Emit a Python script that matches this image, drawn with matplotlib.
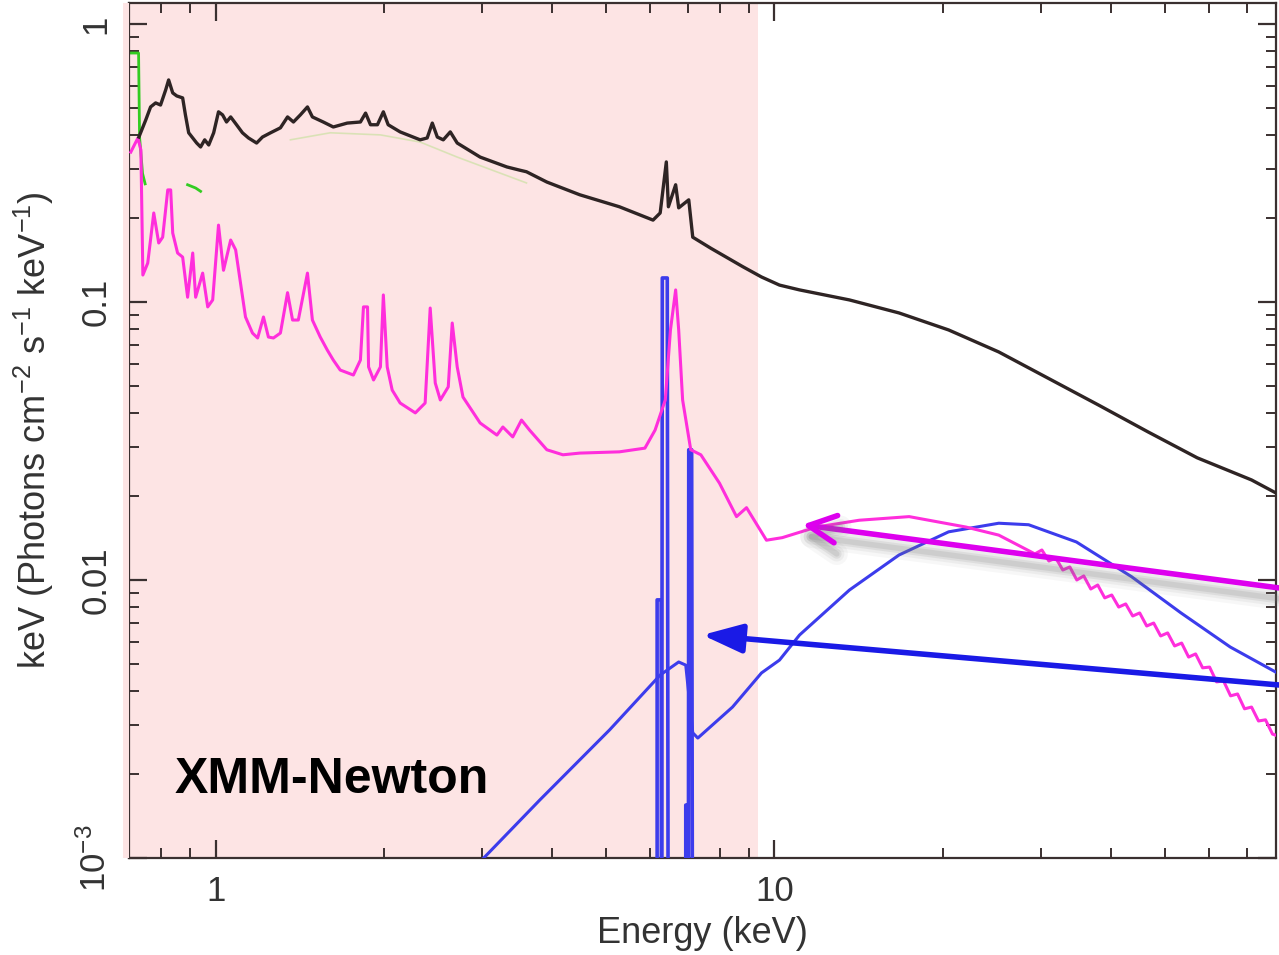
import numpy as np
import matplotlib.pyplot as plt
from matplotlib import patheffects as pe
from matplotlib.patches import Rectangle
from matplotlib.ticker import FixedLocator, FixedFormatter, LogLocator, NullFormatter

plt.rcParams['font.family'] = ['Liberation Sans', 'DejaVu Sans']
plt.rcParams['mathtext.fontset'] = 'custom'
plt.rcParams['mathtext.rm'] = 'Liberation Sans'
plt.rcParams['mathtext.it'] = 'Liberation Sans:italic'

# total model (black)
total_E = [0.729, 0.750, 0.765, 0.781, 0.797, 0.814, 0.824, 0.838, 0.852, 0.873, 0.883, 0.895,
           0.910, 0.925, 0.940, 0.956, 0.972, 0.992, 1.012, 1.029, 1.046, 1.064, 1.090, 1.117,
           1.145, 1.184, 1.213, 1.254, 1.306, 1.345, 1.378, 1.418, 1.460, 1.490, 1.558, 1.624,
           1.720, 1.816, 1.855, 1.893, 1.948, 1.996, 2.036, 2.139, 2.323, 2.391, 2.442, 2.493,
           2.555, 2.630, 2.706, 2.974, 3.320, 3.499, 3.600, 3.915, 4.483, 5.279, 6.064, 6.245,
           6.405, 6.460, 6.656, 6.740, 7.025, 7.142, 7.696, 8.774, 9.48, 10.21, 11.09, 13.62,
           16.71, 20.50, 25.2, 38.0, 46.6, 57.1, 71.4, 78.8]
total_F = [0.392, 0.452, 0.503, 0.520, 0.511, 0.579, 0.629, 0.565, 0.551, 0.542, 0.471, 0.406,
           0.389, 0.373, 0.361, 0.383, 0.367, 0.406, 0.483, 0.471, 0.444, 0.463, 0.434, 0.406,
           0.389, 0.373, 0.392, 0.406, 0.423, 0.463, 0.444, 0.471, 0.503, 0.463, 0.444, 0.426,
           0.440, 0.444, 0.478, 0.434, 0.434, 0.483, 0.434, 0.409, 0.383, 0.389, 0.440, 0.392,
           0.383, 0.409, 0.373, 0.332, 0.306, 0.298, 0.294, 0.270, 0.243, 0.220, 0.197, 0.209,
           0.319, 0.220, 0.264, 0.218, 0.233, 0.171, 0.156, 0.134, 0.123, 0.115, 0.1105, 0.1017,
           0.0913, 0.0793, 0.0661, 0.0426, 0.0341, 0.0275, 0.0229, 0.0206]

# thermal plasma (magenta)
apec_E = [0.705, 0.726, 0.735, 0.741, 0.756, 0.775, 0.791, 0.804, 0.821, 0.831, 0.838, 0.855,
          0.873, 0.891, 0.910, 0.921, 0.948, 0.968, 0.988, 1.012, 1.033, 1.064, 1.086, 1.108,
          1.131, 1.164, 1.189, 1.218, 1.243, 1.269, 1.306, 1.345, 1.373, 1.406, 1.460, 1.490,
          1.539, 1.584, 1.624, 1.671, 1.764, 1.816, 1.839, 1.870, 1.878, 1.917, 1.972, 1.996,
          2.028, 2.070, 2.139, 2.277, 2.371, 2.421, 2.472, 2.524, 2.608, 2.651, 2.706, 2.771,
          2.974, 3.187, 3.266, 3.402, 3.527, 3.646, 3.915, 4.183, 4.483, 5.279, 5.864, 6.115,
          6.378, 6.515, 6.656, 6.740, 6.85, 7.083, 7.384, 7.973, 8.553, 8.913, 9.676, 10.33,
          11.89, 14.18, 17.42, 22.02, 25.2,
          29.25, 30.10, 30.98, 31.88, 32.81, 33.77, 34.76, 35.77, 36.82, 37.89, 39.00, 40.14,
          41.31, 42.52, 43.76, 45.04, 46.36, 47.71, 49.10, 50.54, 52.01, 53.54, 55.10, 56.71,
          58.37, 60.07, 61.83, 63.64, 65.50, 67.41, 69.38, 71.41, 73.49, 75.64, 77.85, 79.1]
apec_F = [0.346, 0.389, 0.352, 0.125, 0.138, 0.209, 0.163, 0.171, 0.253, 0.253, 0.177, 0.150,
          0.145, 0.104, 0.150, 0.104, 0.127, 0.096, 0.1017, 0.189, 0.130, 0.167, 0.154, 0.117,
          0.0883, 0.0773, 0.0742, 0.0883, 0.0748, 0.0742, 0.0773, 0.108, 0.0861, 0.0861, 0.127, 0.0861,
          0.0748, 0.0672, 0.0618, 0.0569, 0.0546, 0.0618, 0.0960, 0.0960, 0.0584, 0.0524, 0.0584, 0.106,
          0.0584, 0.0482, 0.0433, 0.0399, 0.0433, 0.0951, 0.0511, 0.0444, 0.0495, 0.0840, 0.0584, 0.0455,
          0.0367, 0.0332, 0.0355, 0.0327, 0.0376, 0.0346, 0.0294, 0.0282, 0.0286, 0.0289, 0.0298, 0.0346,
          0.0444, 0.0793, 0.1105, 0.0793, 0.0444, 0.0294, 0.0282, 0.0223, 0.0169, 0.0182, 0.0139, 0.0142,
          0.0155, 0.0164, 0.0169, 0.0155, 0.0145,
          0.01241, 0.01282, 0.01170, 0.01200, 0.01086, 0.01114, 0.01000, 0.01034, 0.00928, 0.00959,
          0.00862, 0.00883, 0.00799, 0.00820, 0.00742, 0.00761, 0.00683, 0.00700, 0.00629, 0.00645,
          0.00579, 0.00593, 0.00528, 0.00542, 0.00483, 0.00486, 0.00430, 0.00433, 0.00383, 0.00389,
          0.00344, 0.00349, 0.00311, 0.00314, 0.00279, 0.00276]

# reflection hump (blue)
refl_E = [2.854, 3.807, 5.071, 6.245, 6.740, 6.939, 7.142, 7.292, 8.413, 9.48, 10.21, 11.09,
          13.62, 16.71, 20.50, 25.2, 28.5, 34.7, 43.6, 53.4, 65.4, 78.8]
refl_F = [0.00089, 0.00162, 0.00289, 0.00455, 0.00507, 0.00494, 0.00282, 0.00270, 0.00349,
          0.00463, 0.00515, 0.00634, 0.0092, 0.0123, 0.0149, 0.0160, 0.0158, 0.0137, 0.01026,
          0.00761, 0.00574, 0.00467]

# Fe K alpha / K beta lines (blue)
line_E = [6.167, 6.167, 6.27, 6.28, 6.30, 6.43, 6.46, 6.939, 6.939, 7.00, 7.01, 7.025, 7.11, 7.142]
line_F = [1e-4, 0.00848, 0.00848, 1e-4, 0.122, 0.122, 1e-4, 1e-4, 0.00155, 0.00155, 1e-4,
          0.0294, 0.0294, 1e-4]

# soft component pieces (green)
soft_E = [0.700, 0.728, 0.731, 0.740, 0.748, np.nan, 0.891, 0.921, 0.940]
soft_F = [0.786, 0.786, 0.392, 0.290, 0.266, np.nan, 0.264, 0.257, 0.250]
soft2_E = [1.361, 1.604, 1.972, 2.323, 2.706, 3.600]
soft2_F = [0.383, 0.406, 0.399, 0.376, 0.332, 0.268]

fig = plt.figure(figsize=(12.79, 9.55), dpi=100)
ax = fig.add_axes([0.1009, 0.1016, 0.8968, 0.8953])
ax.set_xscale('log')
ax.set_yscale('log')
ax.set_xlim(0.7, 79)
ax.set_ylim(1e-3, 1.19)

ax.axvspan(0.7, 9.35, color='#fde4e4', lw=0, zorder=0)
# the shaded band spills a few pixels left of the frame in the original
fig.patches.append(Rectangle((0.0962, 0.1016), 0.0050, 0.8953, transform=fig.transFigure,
                             color='#fde4e4', lw=0, zorder=0))

ax.plot(soft2_E, soft2_F, color='#b8e08a', lw=1.2, alpha=0.5, zorder=1)
ax.plot(soft_E, soft_F, color='#33cc22', lw=2, zorder=2)
ax.plot(refl_E, refl_F, color='#3c3cec', lw=2.2, zorder=3)
ax.plot(line_E, line_F, color='#3c3cec', lw=2.6, zorder=3)
ax.plot(apec_E, apec_F, color='#ff2edc', lw=2.2, zorder=4)
ax.plot(total_E, total_F, color='#2e2424', lw=2.4, zorder=5)

# arrows
shadow = [pe.SimpleLineShadow(offset=(2, -8), shadow_color='#777777', alpha=a, linewidth=w)
          for a, w in [(0.06, 16), (0.08, 11), (0.12, 7), (0.15, 4)]]
arr = ax.annotate('', xy=(11.22, 0.0158), xytext=(80, 0.00936), annotation_clip=False,
                  arrowprops=dict(arrowstyle='->,head_length=0.9,head_width=0.45',
                                  color='#dd00ee', lw=4, mutation_scale=22,
                                  shrinkA=0, shrinkB=0), zorder=6)
arr.arrow_patch.set_path_effects(shadow + [pe.Normal()])
ax.annotate('', xy=(7.43, 0.00634), xytext=(80, 0.00419), annotation_clip=False,
            arrowprops=dict(arrowstyle='-|>,head_length=1.1,head_width=0.4',
                            color='#1a1ae6', lw=4, mutation_scale=22,
                            shrinkA=0, shrinkB=0), zorder=6)

ax.text(0.040, 0.091, 'XMM-Newton', transform=ax.transAxes, fontsize=36,
        fontweight='bold', color='black', va='center', ha='left', zorder=7)

# ticks
ax.xaxis.set_major_locator(FixedLocator([1, 10]))
ax.xaxis.set_major_formatter(FixedFormatter(['1', '10']))
ax.xaxis.set_minor_locator(LogLocator(base=10, subs=np.arange(2, 10)))
ax.xaxis.set_minor_formatter(NullFormatter())
ax.yaxis.set_major_locator(FixedLocator([1e-3, 1e-2, 1e-1, 1]))
ax.yaxis.set_major_formatter(FixedFormatter([r'$\mathregular{10^{-3}}$', '0.01', '0.1', '1']))
ax.yaxis.set_minor_locator(LogLocator(base=10, subs=np.arange(2, 10)))
ax.yaxis.set_minor_formatter(NullFormatter())

ax.tick_params(which='both', direction='in', top=True, right=True, color='#3a3030',
               labelcolor='#333333', labelsize=25)
ax.tick_params(which='major', length=13, width=1.6, pad=12)
ax.tick_params(which='minor', length=7, width=1.4)
for lab in ax.get_yticklabels():
    lab.set_rotation(90)
    lab.set_va('center')
for sp in ax.spines.values():
    sp.set_color('#3a3030')
    sp.set_linewidth(1.6)

ax.set_xlabel('Energy (keV)', fontsize=26, color='#333333', labelpad=6)
ax.set_ylabel(r'keV (Photons cm$^{-2}$ s$^{-1}$ keV$^{-1}$)', fontsize=26,
              color='#333333', labelpad=16)

fig.savefig('out.png', dpi=100)
